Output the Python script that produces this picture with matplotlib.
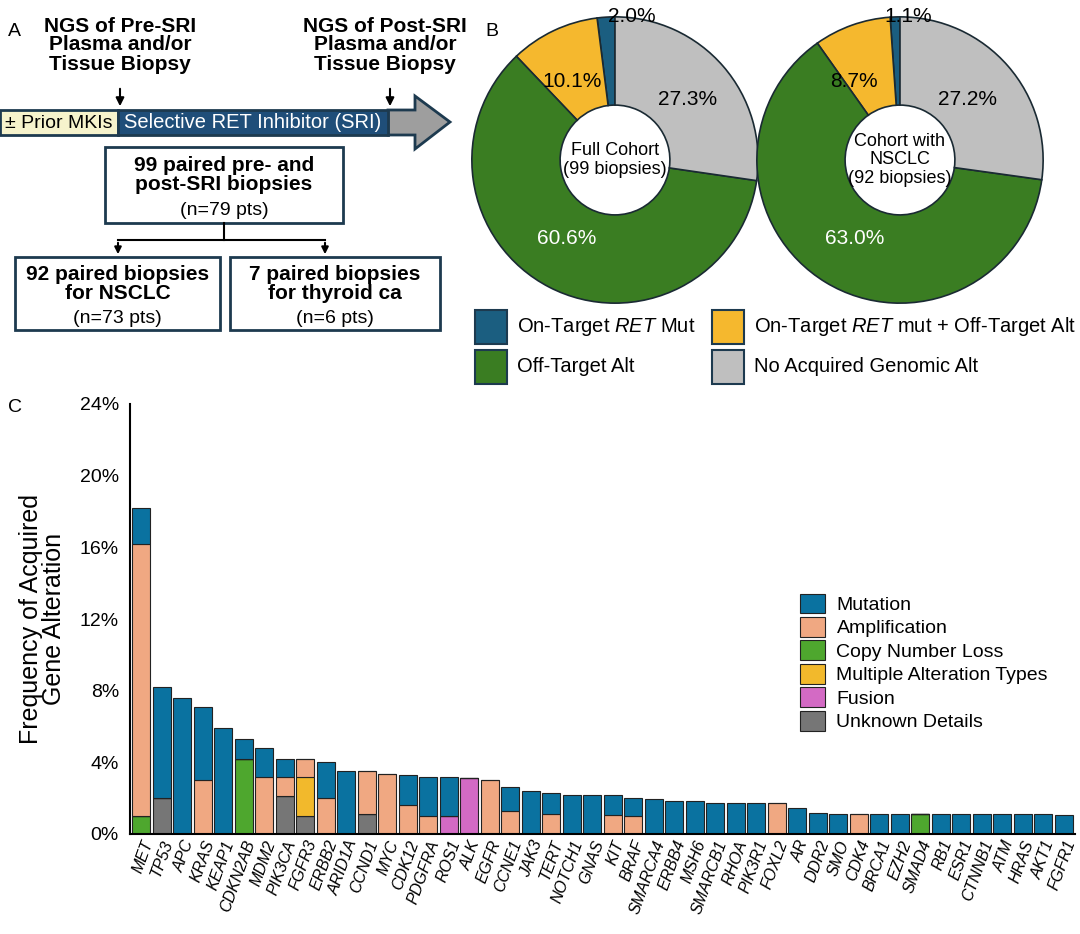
import matplotlib
matplotlib.use("Agg")
import matplotlib.pyplot as plt
from matplotlib.patches import Rectangle, Polygon, FancyArrowPatch
import numpy as np

plt.rcParams['font.family'] = ['Liberation Sans', 'DejaVu Sans']
plt.rcParams['mathtext.fontset'] = 'custom'
plt.rcParams['mathtext.it'] = 'Liberation Sans:italic'
plt.rcParams['mathtext.rm'] = 'Liberation Sans'

# ---------------- data ----------------
genes = ["MET", "TP53", "APC", "KRAS", "KEAP1", "CDKN2AB", "MDM2", "PIK3CA", "FGFR3", "ERBB2",
         "ARID1A", "CCND1", "MYC", "CDK12", "PDGFRA", "ROS1", "ALK", "EGFR", "CCNE1", "JAK3",
         "TERT", "NOTCH1", "GNAS", "KIT", "BRAF", "SMARCA4", "ERBB4", "MSH6", "SMARCB1", "RHOA",
         "PIK3R1", "FOXL2", "AR", "DDR2", "SMO", "CDK4", "BRCA1", "EZH2", "SMAD4", "RB1",
         "ESR1", "CTNNB1", "ATM", "HRAS", "AKT1", "FGFR1"]
cn_loss  = [1.0, 0, 0, 0, 0, 4.2, 0, 0, 0, 0, 0, 0, 0, 0, 0, 0, 0, 0, 0, 0,
            0, 0, 0, 0, 0, 0, 0, 0, 0, 0, 0, 0, 0, 0, 0, 0, 0, 0, 1.1, 0, 0, 0, 0, 0, 0, 0]
unknown  = [0, 2.0, 0, 0, 0, 0, 0, 2.1, 1.0, 0, 0, 1.1, 0, 0, 0, 0, 0, 0, 0, 0,
            0, 0, 0, 0, 0, 0, 0, 0, 0, 0, 0, 0, 0, 0, 0, 0, 0, 0, 0, 0, 0, 0, 0, 0, 0, 0]
fusion   = [0, 0, 0, 0, 0, 0, 0, 0, 0, 0, 0, 0, 0, 0, 0, 1.0, 3.1, 0, 0, 0,
            0, 0, 0, 0, 0, 0, 0, 0, 0, 0, 0, 0, 0, 0, 0, 0, 0, 0, 0, 0, 0, 0, 0, 0, 0, 0]
multiple = [0, 0, 0, 0, 0, 0, 0, 0, 2.2, 0, 0, 0, 0, 0, 0, 0, 0, 0, 0, 0,
            0, 0, 0, 0, 0, 0, 0, 0, 0, 0, 0, 0, 0, 0, 0, 0, 0, 0, 0, 0, 0, 0, 0, 0, 0, 0]
amplif   = [15.2, 0, 0, 3.0, 0, 0, 3.2, 1.1, 1.0, 2.0, 0, 2.4, 3.35, 1.6, 1.0, 0, 0, 3.0, 1.3, 0,
            1.1, 0, 0, 1.05, 1.0, 0, 0, 0, 0, 0, 0, 1.72, 0, 0, 0, 1.13, 0, 0, 0, 0, 0, 0, 0, 0, 0, 0]
mutation = [2.0, 6.2, 7.6, 4.1, 5.9, 1.1, 1.6, 1.0, 0, 2.0, 3.5, 0, 0, 1.7, 2.2, 2.2, 0, 0, 1.35, 2.4,
            1.2, 2.2, 2.2, 1.1, 1.0, 1.95, 1.86, 1.83, 1.75, 1.75, 1.75, 0, 1.47, 1.2, 1.13, 0, 1.1, 1.1, 0, 1.1,
            1.1, 1.1, 1.1, 1.1, 1.1, 1.05]
series = [("Copy Number Loss", cn_loss), ("Unknown Details", unknown), ("Fusion", fusion),
          ("Multiple Alteration Types", multiple), ("Amplification", amplif), ("Mutation", mutation)]
colors_c = {"Mutation": "#0a72a0", "Amplification": "#f0a882", "Copy Number Loss": "#4ea72e",
            "Multiple Alteration Types": "#f2b92c", "Fusion": "#d36ac4", "Unknown Details": "#767676"}
legend_order = ["Mutation", "Amplification", "Copy Number Loss", "Multiple Alteration Types",
                "Fusion", "Unknown Details"]
yticks = [0, 4, 8, 12, 16, 20, 24]

pie_labels = ["On-Target $\\mathit{RET}$ Mut", "On-Target $\\mathit{RET}$ mut + Off-Target Alt",
              "Off-Target Alt", "No Acquired Genomic Alt"]
pie_full = [2.0, 10.1, 60.6, 27.3]
pie_nsclc = [1.1, 8.7, 63.0, 27.2]
pie_colors = ["#1b5e80", "#f5b82e", "#3a7d22", "#bfbfbf"]

W, H = 1080, 934
fig = plt.figure(figsize=(W/100, H/100), dpi=100)

# ---------------- overlay for panel A / labels ----------------
ov = fig.add_axes([0, 0, 1, 1])
ov.set_xlim(0, W); ov.set_ylim(H, 0); ov.axis('off')
navy = "#1d3a4f"
ov.text(8, 32, "A", fontsize=14, va='center')
ov.text(485, 32, "B", fontsize=14, va='center')
ov.text(8, 407, "C", fontsize=14, va='center')
ov.text(120, 45, "NGS of Pre-SRI\nPlasma and/or\nTissue Biopsy", fontsize=15, fontweight='bold',
        ha='center', va='center', linespacing=1.0)
ov.text(385, 45, "NGS of Post-SRI\nPlasma and/or\nTissue Biopsy", fontsize=15, fontweight='bold',
        ha='center', va='center', linespacing=1.0)
for x in (120, 390):
    ov.add_patch(FancyArrowPatch((x, 86), (x, 109), arrowstyle='-|>', mutation_scale=12, color='black', lw=1.5))
ov.add_patch(Polygon([(388, 110), (415, 110), (415, 96), (450, 122), (415, 149), (415, 135), (388, 135)],
                     closed=True, facecolor="#9e9e9e", edgecolor=navy, lw=2))
ov.add_patch(Rectangle((0, 110), 118, 25, facecolor="#f6f3cc", edgecolor=navy, lw=2))
ov.add_patch(Rectangle((118, 110), 270, 25, facecolor="#1f4e79", edgecolor=navy, lw=2))
ov.text(59, 123, "± Prior MKIs", fontsize=14, ha='center', va='center')
ov.text(253, 123, "Selective RET Inhibitor (SRI)", fontsize=14.5, ha='center', va='center', color='white')

def box(x0, y0, w, h, bold, normal):
    ov.add_patch(Rectangle((x0, y0), w, h, facecolor='white', edgecolor=navy, lw=2))
    ov.text(x0 + w/2, y0 + h*0.37, bold, fontsize=15, fontweight='bold', ha='center', va='center', linespacing=1.05)
    ov.text(x0 + w/2, y0 + h*0.84, normal, fontsize=14, ha='center', va='center')

box(105, 147, 238, 76, "99 paired pre- and\npost-SRI biopsies", "(n=79 pts)")
box(15, 257, 205, 73, "92 paired biopsies\nfor NSCLC", "(n=73 pts)")
box(230, 257, 210, 73, "7 paired biopsies\nfor thyroid ca", "(n=6 pts)")
ov.plot([224, 224], [223, 240], color='black', lw=1.5)
ov.plot([118, 325], [240, 240], color='black', lw=1.5)
for x in (118, 325):
    ov.add_patch(FancyArrowPatch((x, 240), (x, 257), arrowstyle='-|>', mutation_scale=10, color='black', lw=1.5))

# ---------------- panel B pies ----------------
def pie(cx, cy, r, vals, center_txt, lab_pos):
    ax = fig.add_axes([(cx - r)/W, (H - cy - r)/H, 2*r/W, 2*r/H])
    ax.pie(vals, colors=pie_colors, startangle=90, counterclock=True, radius=1,
           wedgeprops=dict(width=1 - 56/r, edgecolor='#1a2a33', linewidth=1.2))
    ax.set_xlim(-1.02, 1.02); ax.set_ylim(-1.02, 1.02)
    ax.text(0, 0, center_txt, ha='center', va='center', fontsize=13, linespacing=1.1)
    for v, (px, py) in zip(vals, lab_pos):
        ax.text(px, py, f"{v:.1f}%", ha='center', va='center', fontsize=15, clip_on=False,
                color='white' if py < -0.3 else 'black')

pie(615, 160, 146, pie_full, "Full Cohort\n(99 biopsies)",
    [(0.12, 1.0), (-0.30, 0.55), (-0.34, -0.55), (0.51, 0.42)])
pie(900, 160, 146, pie_nsclc, "Cohort with\nNSCLC\n(92 biopsies)",
    [(0.06, 1.0), (-0.32, 0.55), (-0.32, -0.55), (0.47, 0.42)])

leg_pos = [(475, 310), (712, 310), (475, 350), (712, 350)]
for (lx, ly), lab, col in zip(leg_pos, pie_labels, pie_colors):
    ov.add_patch(Rectangle((lx, ly), 32, 34, facecolor=col, edgecolor=navy, lw=1.5))
    ov.text(lx + 42, ly + 17, lab, fontsize=14.5, va='center')

# ---------------- panel C bars ----------------
axc = fig.add_axes([130/W, (H - 834)/H, 945/W, 430/H])
x = np.arange(len(genes))
bottom = np.zeros(len(genes))
for name, vals in series:
    v = np.array(vals, dtype=float)
    axc.bar(x, v, bottom=bottom, width=0.86, color=colors_c[name], edgecolor='#222222', linewidth=0.8,
            label=name)
    bottom += v
axc.set_xlim(-0.55, len(genes) - 0.45)
axc.set_ylim(0, 24)
axc.set_yticks(yticks)
axc.set_yticklabels([f"{t}%" for t in yticks], fontsize=14)
axc.tick_params(axis='y', length=0, pad=8)
axc.tick_params(axis='x', length=0, pad=3)
axc.set_xticks(x)
axc.set_xticklabels(genes, rotation=70, ha='right', rotation_mode='anchor', fontsize=11.5, style='italic')
for s in ('top', 'right'):
    axc.spines[s].set_visible(False)
axc.spines['left'].set_linewidth(1.5)
axc.spines['bottom'].set_linewidth(1.5)
axc.set_ylabel("Frequency of Acquired\nGene Alteration", fontsize=18, labelpad=10, linespacing=0.95)
handles, labels = axc.get_legend_handles_labels()
hmap = dict(zip(labels, handles))
leg = axc.legend([hmap[n] for n in legend_order], legend_order, loc='upper left',
                 bbox_to_anchor=(0.69, 0.6), frameon=False, fontsize=14,
                 handlelength=1.3, handleheight=1.2, labelspacing=0.15, handletextpad=0.6)

fig.savefig("out.png", dpi=100)
